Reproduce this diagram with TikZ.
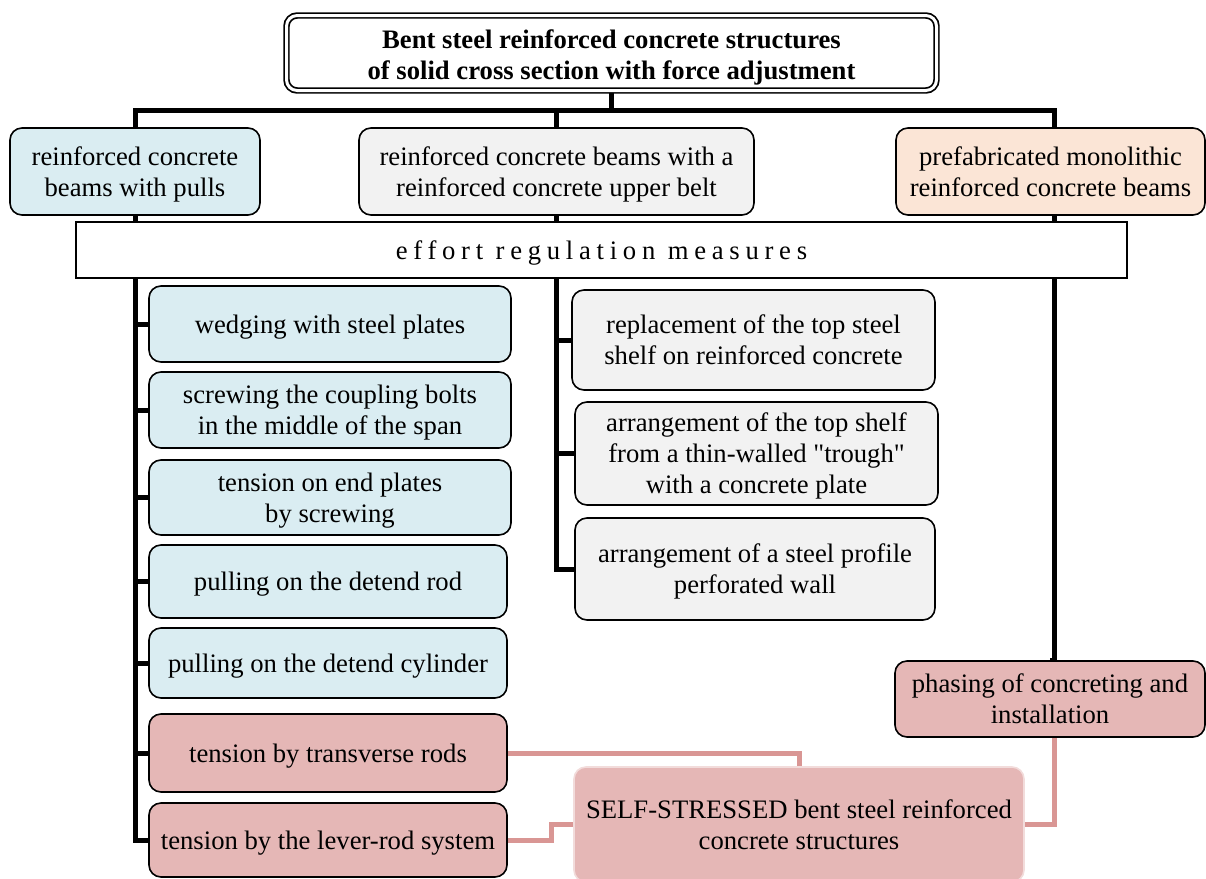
\documentclass[tikz,border=0pt]{standalone}
\usepackage{fontspec}
\setmainfont{Liberation Serif}[Ligatures=TeXOff]
\usetikzlibrary{backgrounds}
\definecolor{cblue}{HTML}{DAEDF2}
\definecolor{cgray}{HTML}{F2F2F2}
\definecolor{cpeach}{HTML}{FBE5D6}
\definecolor{cpink}{HTML}{E5B7B6}
\definecolor{cpinkline}{HTML}{D99694}
\definecolor{cpinkedge}{HTML}{F2DCDB}
\newcommand\dpstrut{\rule[-4.5pt]{0pt}{0pt}}
\newcommand\htstrut{\rule{0pt}{18.3pt}}
\newcommand\httitle{\rule{0pt}{21pt}}
\tikzset{
  box/.style={draw=black, line width=1.2pt, rounded corners=9pt, align=center,
    inner sep=0pt, font=\fontsize{20pt}{23.25pt}\selectfont},
  bluebox/.style={box, fill=cblue},
  graybox/.style={box, fill=cgray},
  peachbox/.style={box, fill=cpeach},
  pinkbox/.style={box, fill=cpink},
  selfbox/.style={box, fill=cpink, draw=cpinkedge},
  titlebox/.style={box, fill=white, double=white, double distance=2.25pt,
    line width=1.3pt, rounded corners=8pt,
    font=\fontsize{20pt}{23.25pt}\selectfont\bfseries},
  effortbox/.style={draw=black, line width=1pt, fill=white, inner sep=0pt,
    font=\fontsize{20pt}{23.25pt}\selectfont\addfontfeature{LetterSpace=21.5}},
  bus/.style={line width=3.75pt, draw=black},
  pinkline/.style={line width=3.75pt, draw=cpinkline},
}
\begin{document}
\begin{tikzpicture}[x=0.75pt,y=-0.75pt]
\path[use as bounding box] (0,0) rectangle (1206,878);

% title
\node[titlebox, minimum width=487.5pt, minimum height=56.25pt] (top) at (611.5,53)
  {\httitle Bent steel reinforced concrete structures\\of solid cross section with force adjustment\dpstrut};

% level 1
\node[bluebox, minimum width=187.5pt, minimum height=65.25pt] (A) at (135,171.5)
  {\htstrut reinforced concrete\\beams with pulls\dpstrut};
\node[graybox, minimum width=296.25pt, minimum height=65.25pt] (B) at (556.5,171.5)
  {\htstrut reinforced concrete beams with a\\reinforced concrete upper belt\dpstrut};
\node[peachbox, minimum width=231.75pt, minimum height=65.25pt] (C) at (1050.5,171.5)
  {\htstrut prefabricated monolithic\\reinforced concrete beams\dpstrut};

% effort box
\node[effortbox, minimum width=788.25pt, minimum height=42pt] (E) at (601.5,250)
  {\htstrut effort regulation measures\dpstrut};

% left column
\node[bluebox, minimum width=271.5pt, minimum height=57pt] (L1) at (330,324)
  {\htstrut wedging with steel plates\dpstrut};
\node[bluebox, minimum width=271.5pt, minimum height=57pt] (L2) at (330,410)
  {\htstrut screwing the coupling bolts\\in the middle of the span\dpstrut};
\node[bluebox, minimum width=271.5pt, minimum height=56.25pt] (L3) at (330,497.5)
  {\htstrut tension on end plates\\by screwing\dpstrut};
\node[bluebox, minimum width=268.5pt, minimum height=54.75pt] (L4) at (328,581.5)
  {\htstrut pulling on the detend rod\dpstrut};
\node[bluebox, minimum width=268.5pt, minimum height=52.5pt] (L5) at (328,663)
  {\htstrut pulling on the detend cylinder\dpstrut};
\node[pinkbox, minimum width=268.5pt, minimum height=58.5pt] (L6) at (328,753)
  {\htstrut tension by transverse rods\dpstrut};
\node[pinkbox, minimum width=268.5pt, minimum height=55.5pt] (L7) at (328,840)
  {\htstrut tension by the lever-rod system\dpstrut};

% middle column
\node[graybox, minimum width=272.25pt, minimum height=75pt] (M1) at (753.5,340)
  {\htstrut replacement of the top steel\\shelf on reinforced concrete\dpstrut};
\node[graybox, minimum width=272.25pt, minimum height=77.25pt] (M2) at (756.5,453.5)
  {\htstrut arrangement of the top shelf\\from a thin-walled "trough"\\with a concrete plate\dpstrut};
\node[graybox, minimum width=270pt, minimum height=76.5pt] (M3) at (755,569)
  {\htstrut arrangement of a steel profile\\perforated wall\dpstrut};

% right
\node[pinkbox, minimum width=232.5pt, minimum height=57pt] (P) at (1050,699)
  {\htstrut phasing of concreting and\\installation\dpstrut};

\node[selfbox, minimum width=337.5pt, minimum height=86.25pt] (S) at (799,824.5)
  {\htstrut SELF-STRESSED bent steel reinforced\\concrete structures\dpstrut};

\coordinate (busL) at (135,110);
\coordinate (busR) at (1054,110);
\coordinate (k) at (551,0);

\begin{scope}[on background layer]
  \draw[bus] (top.south) -- (top.south |- busL);
  \draw[bus] (L7.west) -| (busL) -- (busR) |- (P.north);
  \draw[bus] (B.north |- busL) -- (B.north |- M3.west) -- (M3.west);
  \foreach \n in {L1,L2,L3,L4,L5,L6} \draw[bus] (\n.west -| busL) -- (\n.west);
  \foreach \n in {M1,M2} \draw[bus] (\n.west -| B.north) -- (\n.west);
  \draw[pinkline] (L6.east) -| (S.north);
  \draw[pinkline] (L7.east) -| (k |- S.west) -- (S.west);
  \draw[pinkline] (S.east) -| (busR |- P.south);
\end{scope}
\end{tikzpicture}
\end{document}
